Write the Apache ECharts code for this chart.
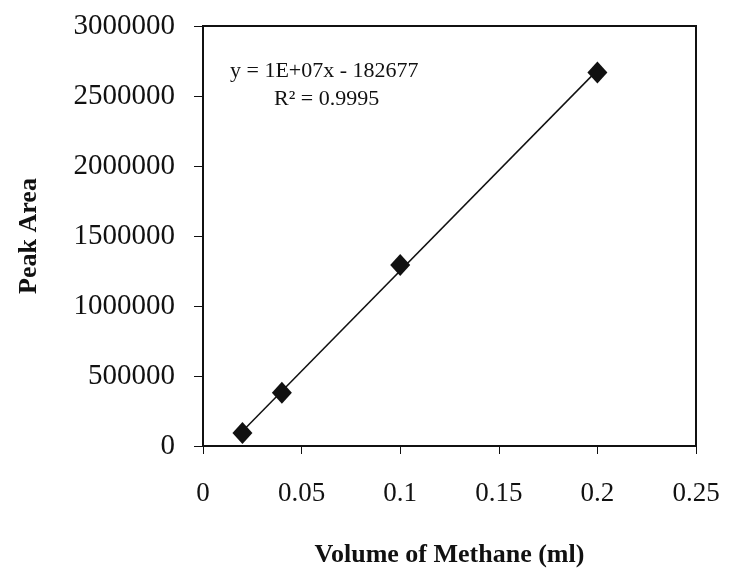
<!DOCTYPE html>
<html>
<head>
<meta charset="utf-8">
<script src="https://cdn.jsdelivr.net/npm/echarts@6/dist/echarts.min.js"></script>
<style>
  html, body { margin: 0; padding: 0; background: #fff; }
  #chart { width: 734px; height: 573px; }
</style>
</head>
<body>
<div id="chart"></div>
<script>
// données
const volumes = [0.02, 0.04, 0.1, 0.2]
const peakAreas = [92000, 381000, 1292000, 2668000]
const equationText = 'y = 1E+07x - 182677'
const r2Text = 'R² = 0.9995'

// droite de tendance (moindres carrés, comme Excel)
const n = volumes.length
const mx = volumes.reduce((a, b) => a + b, 0) / n
const my = peakAreas.reduce((a, b) => a + b, 0) / n
let sxy = 0, sxx = 0
volumes.forEach((x, i) => {
    sxy += (x - mx) * (peakAreas[i] - my)
    sxx += (x - mx) * (x - mx)
})
const slope = sxy / sxx
const intercept = my - slope * mx
const xFirst = volumes[0], xLast = volumes[n - 1]
const trend = [[xFirst, slope * xFirst + intercept], [xLast, slope * xLast + intercept]]

const serif = '"Liberation Serif", "Times New Roman", serif'
const ink = '#111'

const myChart = echarts.init(document.getElementById('chart'))
myChart.setOption({
    animation: false,
    backgroundColor: '#fff',
    grid: {
        left: 203,
        top: 26,
        right: 38,
        bottom: 122,
        show: true,
        borderColor: ink,
        borderWidth: 2
    },
    xAxis: {
        type: 'value',
        min: 0,
        max: 0.25,
        interval: 0.05,
        name: 'Volume of Methane (ml)',
        nameLocation: 'middle',
        nameGap: 96,
        nameTextStyle: { fontFamily: serif, fontWeight: 'bold', fontSize: 26, color: ink },
        axisLine: { lineStyle: { color: ink, width: 2 } },
        axisTick: { show: true, length: 8, lineStyle: { color: ink, width: 1 } },
        axisLabel: { margin: 34, fontFamily: serif, fontSize: 27, color: ink },
        splitLine: { show: false }
    },
    yAxis: {
        type: 'value',
        min: 0,
        max: 3000000,
        interval: 500000,
        name: 'Peak Area',
        nameLocation: 'middle',
        nameGap: 161,
        nameTextStyle: { fontFamily: serif, fontWeight: 'bold', fontSize: 26, color: ink },
        axisLine: { show: true, lineStyle: { color: ink, width: 2 } },
        axisTick: { show: true, length: 9, lineStyle: { color: ink, width: 1 } },
        axisLabel: {
            margin: 28,
            fontFamily: serif,
            fontSize: 29,
            color: ink,
            formatter: (v) => String(v)
        },
        splitLine: { show: false }
    },
    graphic: [
        {
            type: 'text',
            left: 230,
            top: 60,
            style: { text: equationText, fontFamily: serif, fontSize: 22, fill: ink }
        },
        {
            type: 'text',
            left: 274,
            top: 88,
            style: { text: r2Text, fontFamily: serif, fontSize: 22, fill: ink }
        }
    ],
    series: [
        {
            type: 'line',
            data: trend,
            symbol: 'none',
            lineStyle: { color: ink, width: 1.5 },
            z: 2
        },
        {
            type: 'scatter',
            data: volumes.map((x, i) => [x, peakAreas[i]]),
            symbol: 'diamond',
            symbolSize: [20, 22],
            itemStyle: { color: ink, opacity: 1 },
            z: 3
        }
    ]
})
</script>
</body>
</html>
